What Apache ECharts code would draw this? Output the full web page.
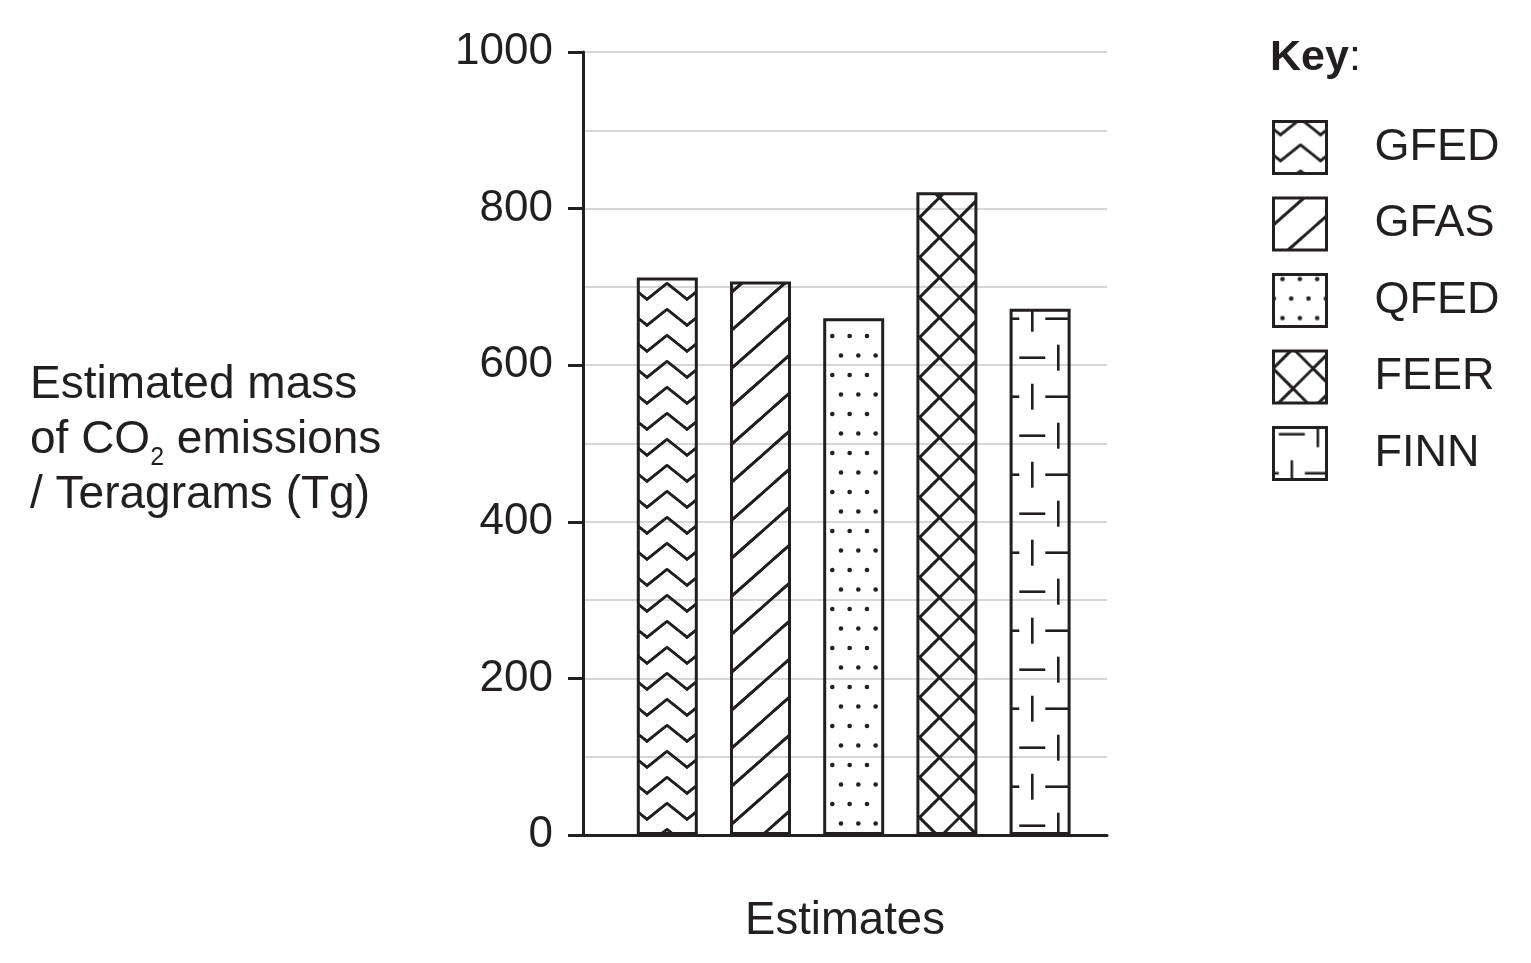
<!DOCTYPE html>
<html>
<head>
<meta charset="utf-8">
<title>CO2 emission estimates</title>
<script src="https://cdn.jsdelivr.net/npm/echarts@6/dist/echarts.min.js"></script>
<style>
  html, body { margin: 0; padding: 0; background: #fff; }
  #chart { width: 1531px; height: 963px; }
</style>
</head>
<body>
<div id="chart"></div>
<script>
  // data
  const seriesNames = ['GFED', 'GFAS', 'QFED', 'FEER', 'FINN'];
  const seriesValues = [712, 707, 660, 821, 672];
  const yMin = 0;
  const yMax = 1000;
  const yStep = 200;

  const ink = '#231f20';
  const font = '"Liberation Sans", Arial, Helvetica, sans-serif';

  // small canvas tiles used as hatch fills (anchored at canvas origin)
  function tile(w, h, draw) {
    const c = document.createElement('canvas');
    c.width = w;
    c.height = h;
    const ctx = c.getContext('2d');
    ctx.strokeStyle = ink;
    ctx.fillStyle = ink;
    ctx.lineWidth = 2.6;
    for (let dx = -w; dx <= w; dx += w) {
      for (let dy = -h; dy <= h; dy += h) {
        ctx.save();
        ctx.translate(dx, dy);
        draw(ctx, w, h);
        ctx.restore();
      }
    }
    return c;
  }

  function line(ctx, pts) {
    ctx.beginPath();
    ctx.moveTo(pts[0][0], pts[0][1]);
    for (let i = 1; i < pts.length; i++) ctx.lineTo(pts[i][0], pts[i][1]);
    ctx.stroke();
  }

  const patterns = {
    // zigzag
    GFED: tile(40, 26, (ctx) => {
      ctx.lineJoin = 'miter';
      line(ctx, [[-13, 23.3], [7, 39.3], [27, 23.3], [47, 39.3], [67, 23.3]]);
    }),
    // "/" hatching
    GFAS: tile(43, 38, (ctx, w, h) => {
      const k = h / w, c = 26.8;
      line(ctx, [[-w, c + k * w], [2 * w, c - 2 * k * w]]);
    }),
    // staggered dots
    QFED: tile(52, 39, (ctx) => {
      const sx = 52 / 3;
      for (let i = 0; i < 3; i++) {
        ctx.beginPath(); ctx.arc(0.3 + sx * i, 24, 2.3, 0, Math.PI * 2); ctx.fill();
        ctx.beginPath(); ctx.arc(0.3 + sx / 2 + sx * i, 4.5, 2.3, 0, Math.PI * 2); ctx.fill();
      }
    }),
    // cross hatching
    FEER: tile(40, 40, (ctx) => {
      line(ctx, [[-40, -22], [80, 98]]);
      line(ctx, [[-40, 57], [80, -63]]);
    }),
    // broken dashes
    FINN: tile(52, 78, (ctx) => {
      ctx.save();
      ctx.translate(44.3, 6.7);
      line(ctx, [[0, -13], [0, 13]]);
      line(ctx, [[13, 0], [39, 0]]);
      line(ctx, [[-13, 39], [13, 39]]);
      line(ctx, [[26, 26], [26, 52]]);
      ctx.restore();
    })
  };

  const chart = echarts.init(document.getElementById('chart'));

  const series = seriesNames.map((name, i) => ({
    name: name,
    type: 'bar',
    xAxisIndex: 1,
    yAxisIndex: 1,
    barWidth: 61,
    barGap: '-100%',
    data: seriesNames.map((_, j) => (j === i ? seriesValues[i] : '-')),
    itemStyle: {
      color: { image: patterns[name], repeat: 'repeat' },
      borderColor: ink,
      borderWidth: 3
    },
    emphasis: { disabled: true }
  }));

  chart.setOption({
    animation: false,
    backgroundColor: '#fff',
    textStyle: { fontFamily: font, color: ink },

    grid: [
      { left: 583, right: 424, top: 52, bottom: 128 },
      { left: 620.7, right: 444.3, top: 52, bottom: 128 }
    ],

    xAxis: [{
      gridIndex: 0,
      type: 'value',
      min: 0,
      max: 1,
      name: 'Estimates',
      nameLocation: 'middle',
      nameGap: 63,
      nameTextStyle: { fontSize: 45.5, color: ink, fontFamily: font },
      axisLine: { show: true, lineStyle: { color: ink, width: 3 } },
      axisTick: { show: false },
      axisLabel: { show: false },
      splitLine: { show: false }
    }, {
      gridIndex: 1,
      type: 'category',
      data: seriesNames,
      show: false
    }],

    yAxis: [{
      gridIndex: 0,
      type: 'value',
      min: yMin,
      max: yMax,
      interval: yStep,
      axisLine: { show: true, lineStyle: { color: ink, width: 3 } },
      axisTick: { show: true, length: 15, lineStyle: { color: ink, width: 3 } },
      axisLabel: {
        fontSize: 44, color: ink, fontFamily: font, margin: 30,
        formatter: (v) => String(v)
      },
      splitLine: { show: true, lineStyle: { color: '#c8c8c8', width: 1.5 } },
      minorTick: { show: false, splitNumber: 2 },
      minorSplitLine: { show: true, lineStyle: { color: '#c8c8c8', width: 1.5 } }
    }, {
      gridIndex: 1,
      type: 'value',
      min: yMin,
      max: yMax,
      show: false
    }],

    legend: {
      orient: 'vertical',
      left: 1272,
      top: 120,
      padding: 0,
      icon: 'rect',
      itemWidth: 53,
      itemHeight: 52,
      itemGap: 21.5,
      selectedMode: false,
      data: seriesNames,
      itemStyle: { borderColor: ink, borderWidth: 3 },
      textStyle: {
        fontSize: 45, lineHeight: 50, color: ink, fontFamily: font,
        padding: [0, 0, 0, 43]
      }
    },

    graphic: [{
      type: 'text',
      left: 30,
      top: 358,
      style: {
        text: 'Estimated mass\nof CO{sub|2} emissions\n/ Teragrams (Tg)',
        fontSize: 46,
        fontFamily: font,
        lineHeight: 55,
        fill: ink,
        rich: {
          sub: { fontSize: 25, fontFamily: font, padding: [36, 0, 0, 0] }
        }
      }
    }, {
      type: 'text',
      left: 1270,
      top: 37,
      style: {
        text: '{b|Key}:',
        fontSize: 43,
        fontFamily: font,
        fill: ink,
        rich: {
          b: { fontSize: 43, fontWeight: 'bold', fontFamily: font }
        }
      }
    }],

    series: series
  });
</script>
</body>
</html>
